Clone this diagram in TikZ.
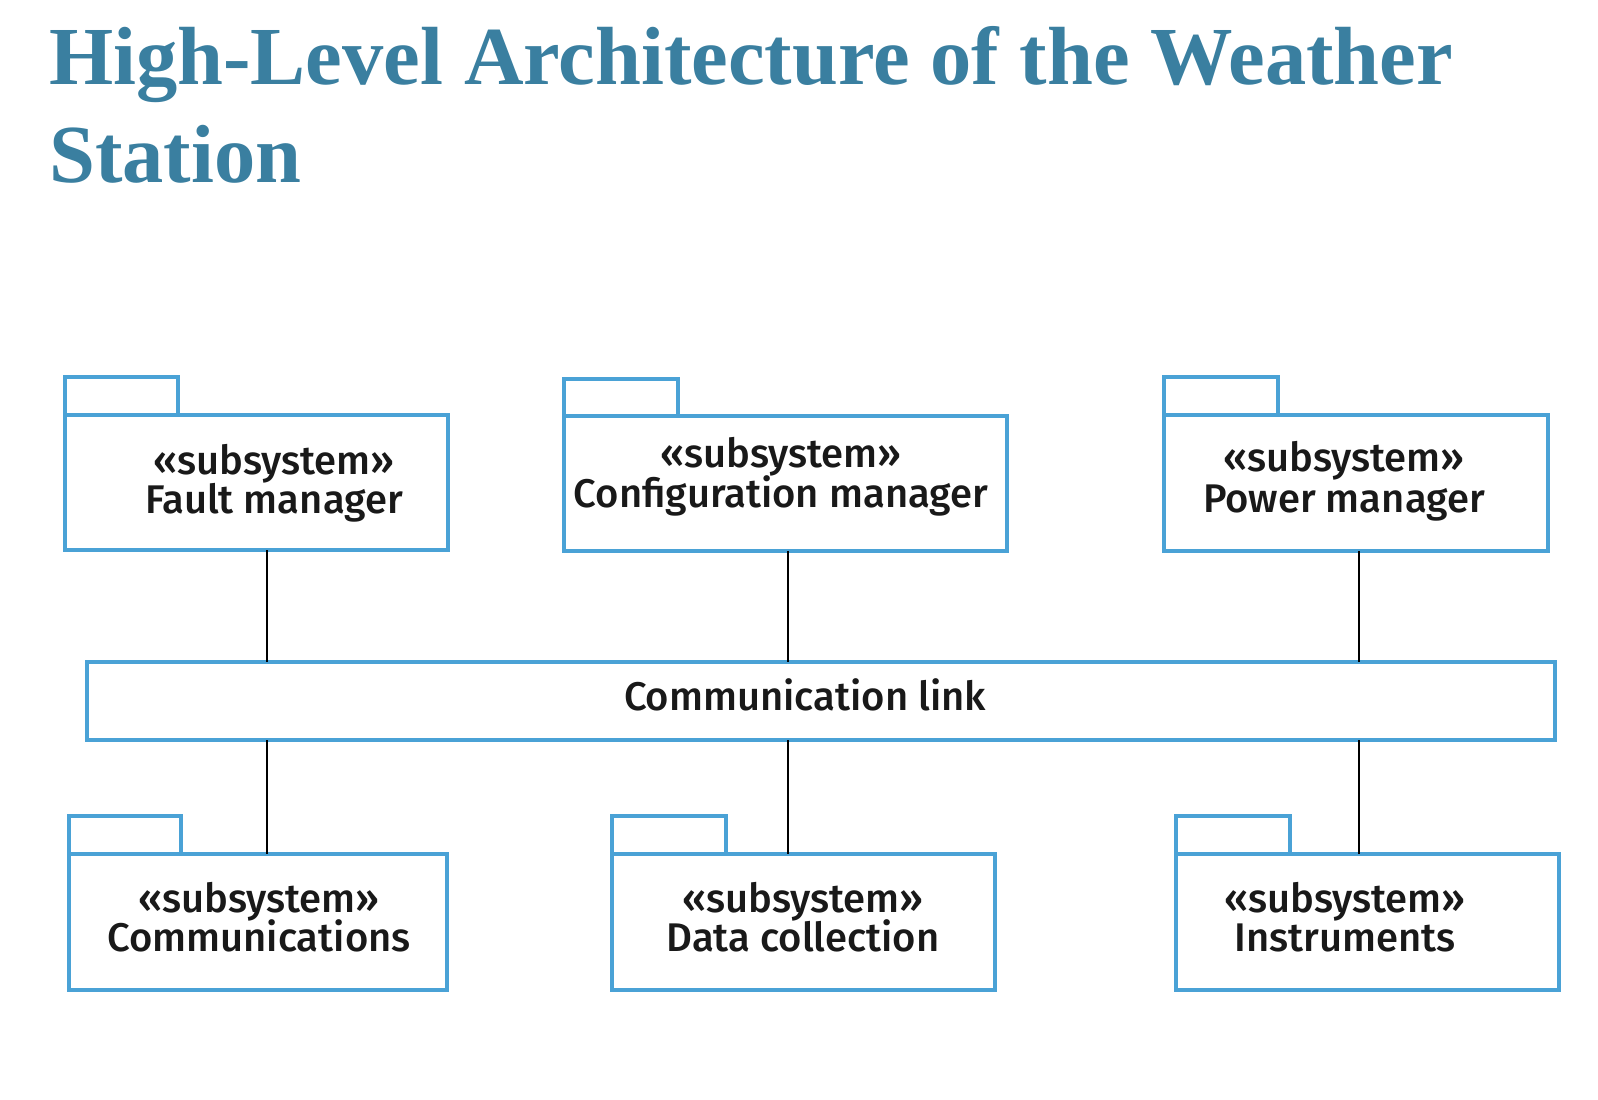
\documentclass[tikz,border=0pt]{standalone}
\usepackage{fontspec}
\setmainfont{Liberation Serif}
\newfontfamily\labelfont{Fira Sans Medium}
\definecolor{titleblue}{RGB}{58,127,160}
\definecolor{pkgblue}{RGB}{74,162,214}
\begin{document}
\begin{tikzpicture}[x=1pt,y=-1pt,
  pkg/.style={draw=pkgblue, line width=4pt, fill=white, inner sep=0pt, outer sep=0pt, anchor=north west},
  lbl/.style={font=\labelfont\fontsize{40}{42}\selectfont, text=black!90, anchor=base, inner sep=0pt},
  conn/.style={draw=black, line width=1.4pt},
  ttl/.style={font=\bfseries\fontsize{82.5}{96}\selectfont, text=titleblue, anchor=base west, inner sep=0pt}]
\useasboundingbox (0,0) rectangle (1598,1100);
% title
\node[ttl] (t1) at (49,84) {High-Level Architecture of the Weather};
\node[ttl] (t2) at (49,182) {Station};
% top packages
\node[pkg, minimum width=383pt, minimum height=135pt] (fault) at (65,415) {};
\node[pkg, minimum width=113pt, minimum height=38pt, anchor=south west] (faulttab) at (fault.north west) {};
\node[pkg, minimum width=443pt, minimum height=135pt] (config) at (564,416) {};
\node[pkg, minimum width=114pt, minimum height=37pt, anchor=south west] (configtab) at (config.north west) {};
\node[pkg, minimum width=384pt, minimum height=136pt] (power) at (1164,415) {};
\node[pkg, minimum width=114pt, minimum height=38pt, anchor=south west] (powertab) at (power.north west) {};
% link
\node[pkg, minimum width=1468pt, minimum height=78pt] (link) at (87,662) {};
% bottom packages
\node[pkg, minimum width=378pt, minimum height=136pt] (comm) at (69,854) {};
\node[pkg, minimum width=112pt, minimum height=38pt, anchor=south west] (commtab) at (comm.north west) {};
\node[pkg, minimum width=383pt, minimum height=136pt] (data) at (612,854) {};
\node[pkg, minimum width=114pt, minimum height=38pt, anchor=south west] (datatab) at (data.north west) {};
\node[pkg, minimum width=383pt, minimum height=136pt] (instr) at (1176,854) {};
\node[pkg, minimum width=114pt, minimum height=38pt, anchor=south west] (instrtab) at (instr.north west) {};
% labels
\node[lbl] (l1a) at (274,474) {«subsystem»};
\node[lbl] (l1b) at (274,513) {Fault manager};
\node[lbl] (l2a) at (781,467) {«subsystem»};
\node[lbl] (l2b) at (781,507) {Configuration manager};
\node[lbl] (l3a) at (1344,471) {«subsystem»};
\node[lbl] (l3b) at (1344,512) {Power manager};
\node[lbl] (llink) at (805,710) {Communication link};
\node[lbl] (l4a) at (259,912) {«subsystem»};
\node[lbl] (l4b) at (259,951) {Communications};
\node[lbl] (l5a) at (803,912) {«subsystem»};
\node[lbl] (l5b) at (803,951) {Data collection};
\node[lbl] (l6a) at (1345,912) {«subsystem»};
\node[lbl] (l6b) at (1345,951) {Instruments};
% connectors
\coordinate (x1) at (267,0);
\coordinate (x2) at (788,0);
\coordinate (x3) at (1359,0);
\draw[conn] (x1 |- fault.south) -- (x1 |- link.north);
\draw[conn] (x2 |- config.south) -- (x2 |- link.north);
\draw[conn] (x3 |- power.south) -- (x3 |- link.north);
\draw[conn] (x1 |- link.south) -- (x1 |- comm.north);
\draw[conn] (x2 |- link.south) -- (x2 |- data.north);
\draw[conn] (x3 |- link.south) -- (x3 |- instr.north);
\end{tikzpicture}
\end{document}
